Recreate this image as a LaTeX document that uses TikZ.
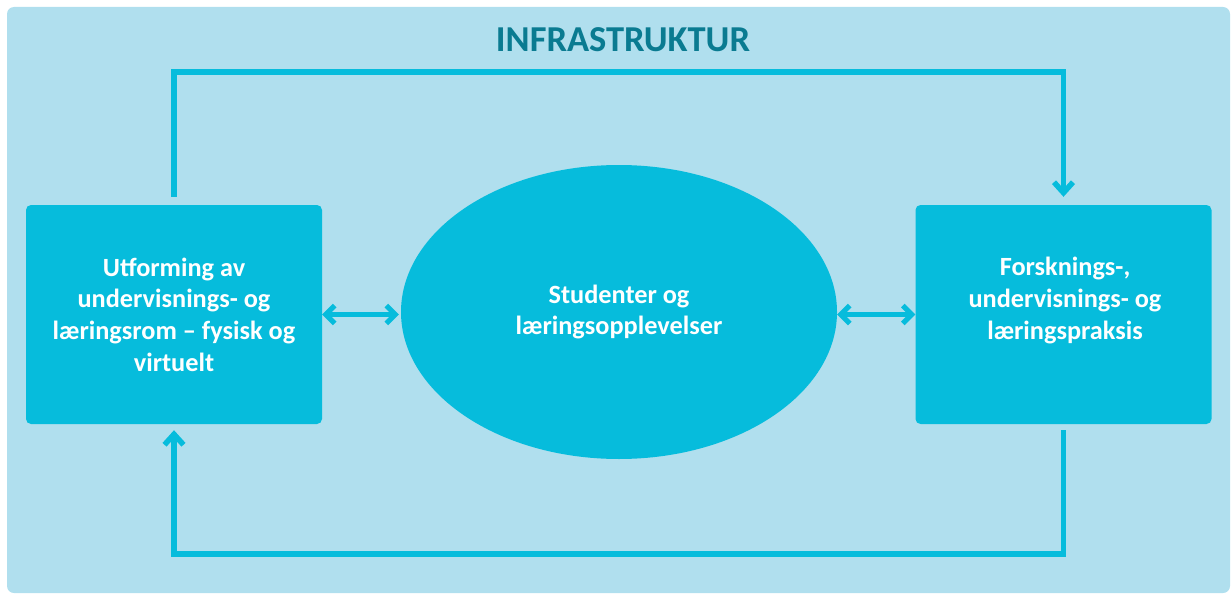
\documentclass[tikz,border=0pt]{standalone}
\usepackage{fontspec}
\setmainfont{Carlito}
\usetikzlibrary{arrows.meta,shapes.geometric}
\definecolor{bgblue}{HTML}{B0DFEE}
\definecolor{boxblue}{HTML}{06BCDC}
\definecolor{titleteal}{HTML}{0A7B91}
\begin{document}
\begin{tikzpicture}[x=1pt,y=-1pt,
  boxtext/.style={font=\bfseries\fontsize{26.3}{31.7}\selectfont, text=white, align=center},
  panel/.style={fill=boxblue, draw=none, rounded corners=5pt, inner sep=0pt,
                minimum width=296pt, minimum height=219pt},
  oval/.style={ellipse, fill=boxblue, draw=none, inner sep=0pt,
               minimum width=436pt, minimum height=294pt},
  heading/.style={font=\bfseries\fontsize{36.5}{42}\selectfont, text=titleteal},
  flow/.style={draw=boxblue, line width=5.5pt, -{Straight Barb[length=10.5pt,width=19pt]}},
  dflow/.style={draw=boxblue, line width=5pt,
                {Straight Barb[length=9pt,width=18pt]}-{Straight Barb[length=9pt,width=18pt]}}]
  \useasboundingbox (0,0) rectangle (1231,594);
  % background panel
  \fill[bgblue, rounded corners=7pt] (7,7) rectangle (1230,593);

  % title
  \node[heading, anchor=base] (T) at (623,51.7) {INFRASTRUKTUR};

  % boxes and the central oval
  \node[panel, boxtext] (L) at (174,314.5)
    {Utforming av\\undervisnings- og\\læringsrom – fysisk og\\virtuelt};
  \node[panel] (R) at (1063.5,314.5) {};
  \node[boxtext] (Rt) at (1065,300.5)
    {Forsknings-,\\undervisnings- og\\læringspraksis};
  \node[oval, boxtext] (E) at (619,312) {Studenter og\\læringsopplevelser};

  % loop lines
  \coordinate (topy) at (0,72);
  \coordinate (boty) at (0,554);
  \draw[flow] ([yshift=8pt]L.north) -- (L.north |- topy) -- (R.north |- topy)
    -- ([yshift=8pt]R.north);
  \draw[flow] ([yshift=-6pt]R.south) -- (R.south |- boty) -- (L.south |- boty)
    -- ([yshift=-6pt]L.south);

  % two-way arrows
  \draw[dflow, shorten >=2pt] (L.east) -- (L.east -| E.west);
  \draw[dflow] (E.east |- R.west) -- (R.west);
\end{tikzpicture}
\end{document}
